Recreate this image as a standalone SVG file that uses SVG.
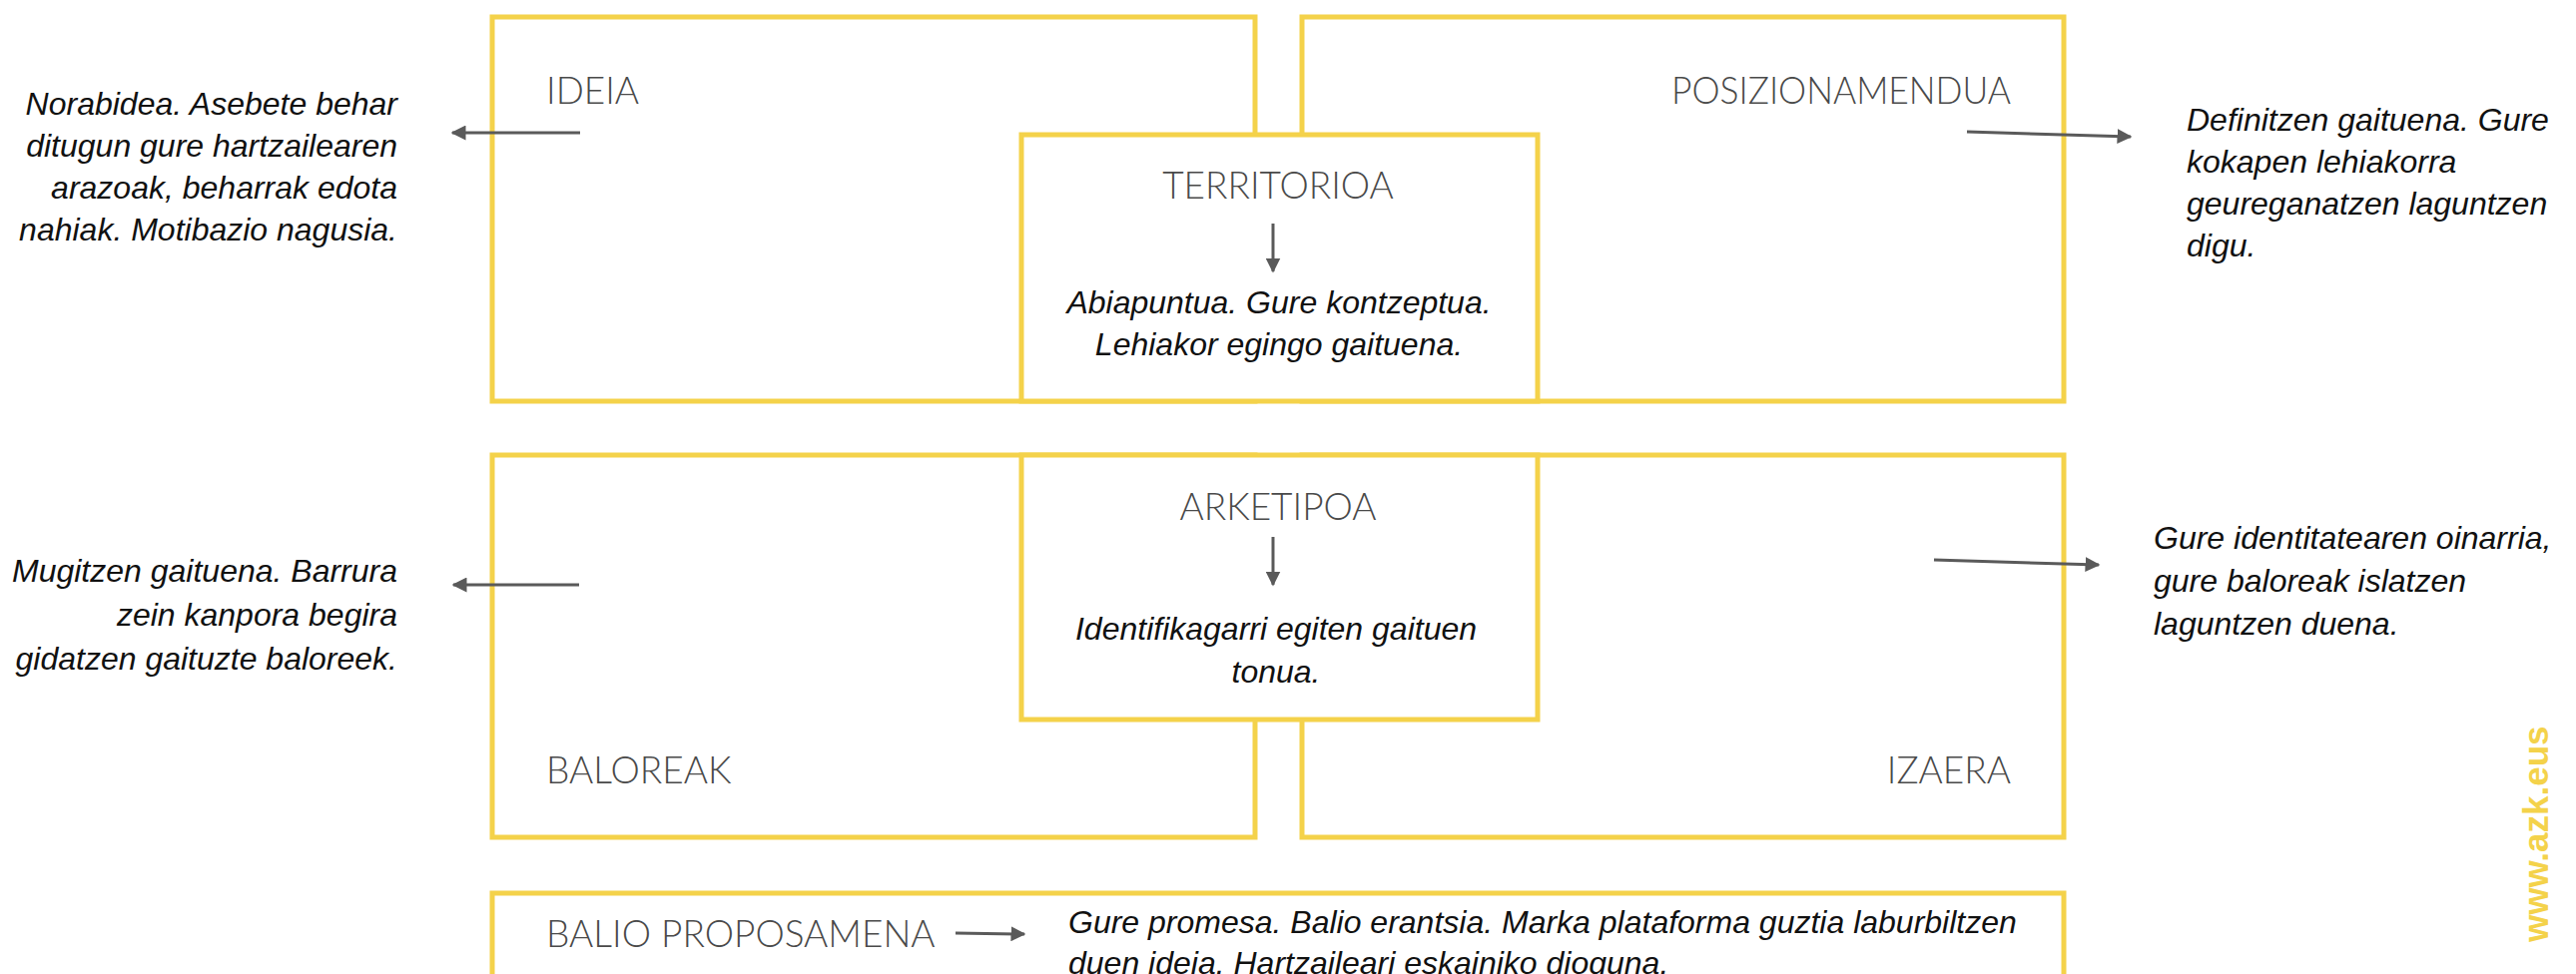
<svg xmlns="http://www.w3.org/2000/svg" width="2580" height="976" viewBox="0 0 2580 976">
<style>
.box{fill:#fff;stroke:#F4D24A;stroke-width:5}
.lbl{font-family:Lato,"Open Sans","Liberation Sans",sans-serif;font-weight:300;font-size:37px;fill:#4a4a4a}
.dsc{font-family:"Liberation Sans",Arial,sans-serif;font-style:italic;font-size:32px;fill:#111}
.arr{stroke:#5a5a5a;stroke-width:3;fill:none;marker-end:url(#ah)}
.wm{font-family:"Liberation Sans",Arial,sans-serif;font-weight:bold;font-size:35px;fill:#F4D24A}
</style>
<defs>
<marker id="ah" viewBox="0 0 10 10" refX="9" refY="5" markerWidth="5" markerHeight="5" orient="auto" markerUnits="strokeWidth">
<path d="M0,0 L10,5 L0,10 z" fill="#5a5a5a"/>
</marker>
</defs>
<rect width="2580" height="976" fill="#fff"/>

<g id="ideia">
<rect class="box" x="493" y="17" width="764" height="385"/>
<text class="lbl" x="547" y="104">IDEIA</text>
</g>
<g id="posizionamendua">
<rect class="box" x="1304" y="17" width="763" height="385"/>
<text class="lbl" x="2014" y="104" text-anchor="end" textLength="340" lengthAdjust="spacingAndGlyphs">POSIZIONAMENDUA</text>
</g>
<g id="territorioa">
<rect class="box" x="1023" y="135" width="517" height="267"/>
<text class="lbl" x="1280" y="199" text-anchor="middle">TERRITORIOA</text>
<text class="dsc" text-anchor="middle"><tspan x="1281" y="314">Abiapuntua. Gure kontzeptua.</tspan><tspan x="1281" y="356">Lehiakor egingo gaituena.</tspan></text>
</g>
<g id="baloreak">
<rect class="box" x="493" y="456" width="764" height="383"/>
<text class="lbl" x="547" y="785">BALOREAK</text>
</g>
<g id="izaera">
<rect class="box" x="1304" y="456" width="763" height="383"/>
<text class="lbl" x="2014" y="785" text-anchor="end">IZAERA</text>
</g>
<g id="arketipoa">
<rect class="box" x="1023" y="456" width="517" height="265"/>
<text class="lbl" x="1280" y="521" text-anchor="middle">ARKETIPOA</text>
<text class="dsc" text-anchor="middle"><tspan x="1278" y="641">Identifikagarri egiten gaituen</tspan><tspan x="1278" y="684">tonua.</tspan></text>
</g>
<g id="balio-proposamena">
<rect class="box" x="493" y="895" width="1574" height="120"/>
<text class="lbl" x="547" y="949">BALIO PROPOSAMENA</text>
<text class="dsc"><tspan x="1070" y="935">Gure promesa. Balio erantsia. Marka plataforma guztia laburbiltzen</tspan><tspan x="1070" y="976">duen ideia. Hartzaileari eskainiko dioguna.</tspan></text>
</g>

<g id="desc-ideia">
<text class="dsc" text-anchor="end"><tspan x="398" y="115">Norabidea. Asebete behar</tspan><tspan x="398" y="157">ditugun gure hartzailearen</tspan><tspan x="398" y="199">arazoak, beharrak edota</tspan><tspan x="398" y="241">nahiak. Motibazio nagusia.</tspan></text>
</g>
<g id="desc-posizionamendua">
<text class="dsc"><tspan x="2190" y="131">Definitzen gaituena. Gure</tspan><tspan x="2190" y="173">kokapen lehiakorra</tspan><tspan x="2190" y="215">geureganatzen laguntzen</tspan><tspan x="2190" y="257">digu.</tspan></text>
</g>
<g id="desc-baloreak">
<text class="dsc" text-anchor="end"><tspan x="398" y="583">Mugitzen gaituena. Barrura</tspan><tspan x="398" y="627">zein kanpora begira</tspan><tspan x="398" y="671">gidatzen gaituzte baloreek.</tspan></text>
</g>
<g id="desc-izaera">
<text class="dsc"><tspan x="2157" y="550">Gure identitatearen oinarria,</tspan><tspan x="2157" y="593">gure baloreak islatzen</tspan><tspan x="2157" y="636">laguntzen duena.</tspan></text>
</g>

<g id="connectors">
<line class="arr" x1="581" y1="133" x2="453" y2="133"/>
<line class="arr" x1="1970" y1="132" x2="2134" y2="137"/>
<line class="arr" x1="1275" y1="224" x2="1275" y2="272"/>
<line class="arr" x1="1275" y1="538" x2="1275" y2="586"/>
<line class="arr" x1="580" y1="586" x2="454" y2="586"/>
<line class="arr" x1="1937" y1="561" x2="2102" y2="566"/>
<line class="arr" x1="957" y1="935" x2="1026" y2="936"/>
</g>

<text class="wm" transform="translate(2552,944) rotate(-90)">www.azk.eus</text>
</svg>
